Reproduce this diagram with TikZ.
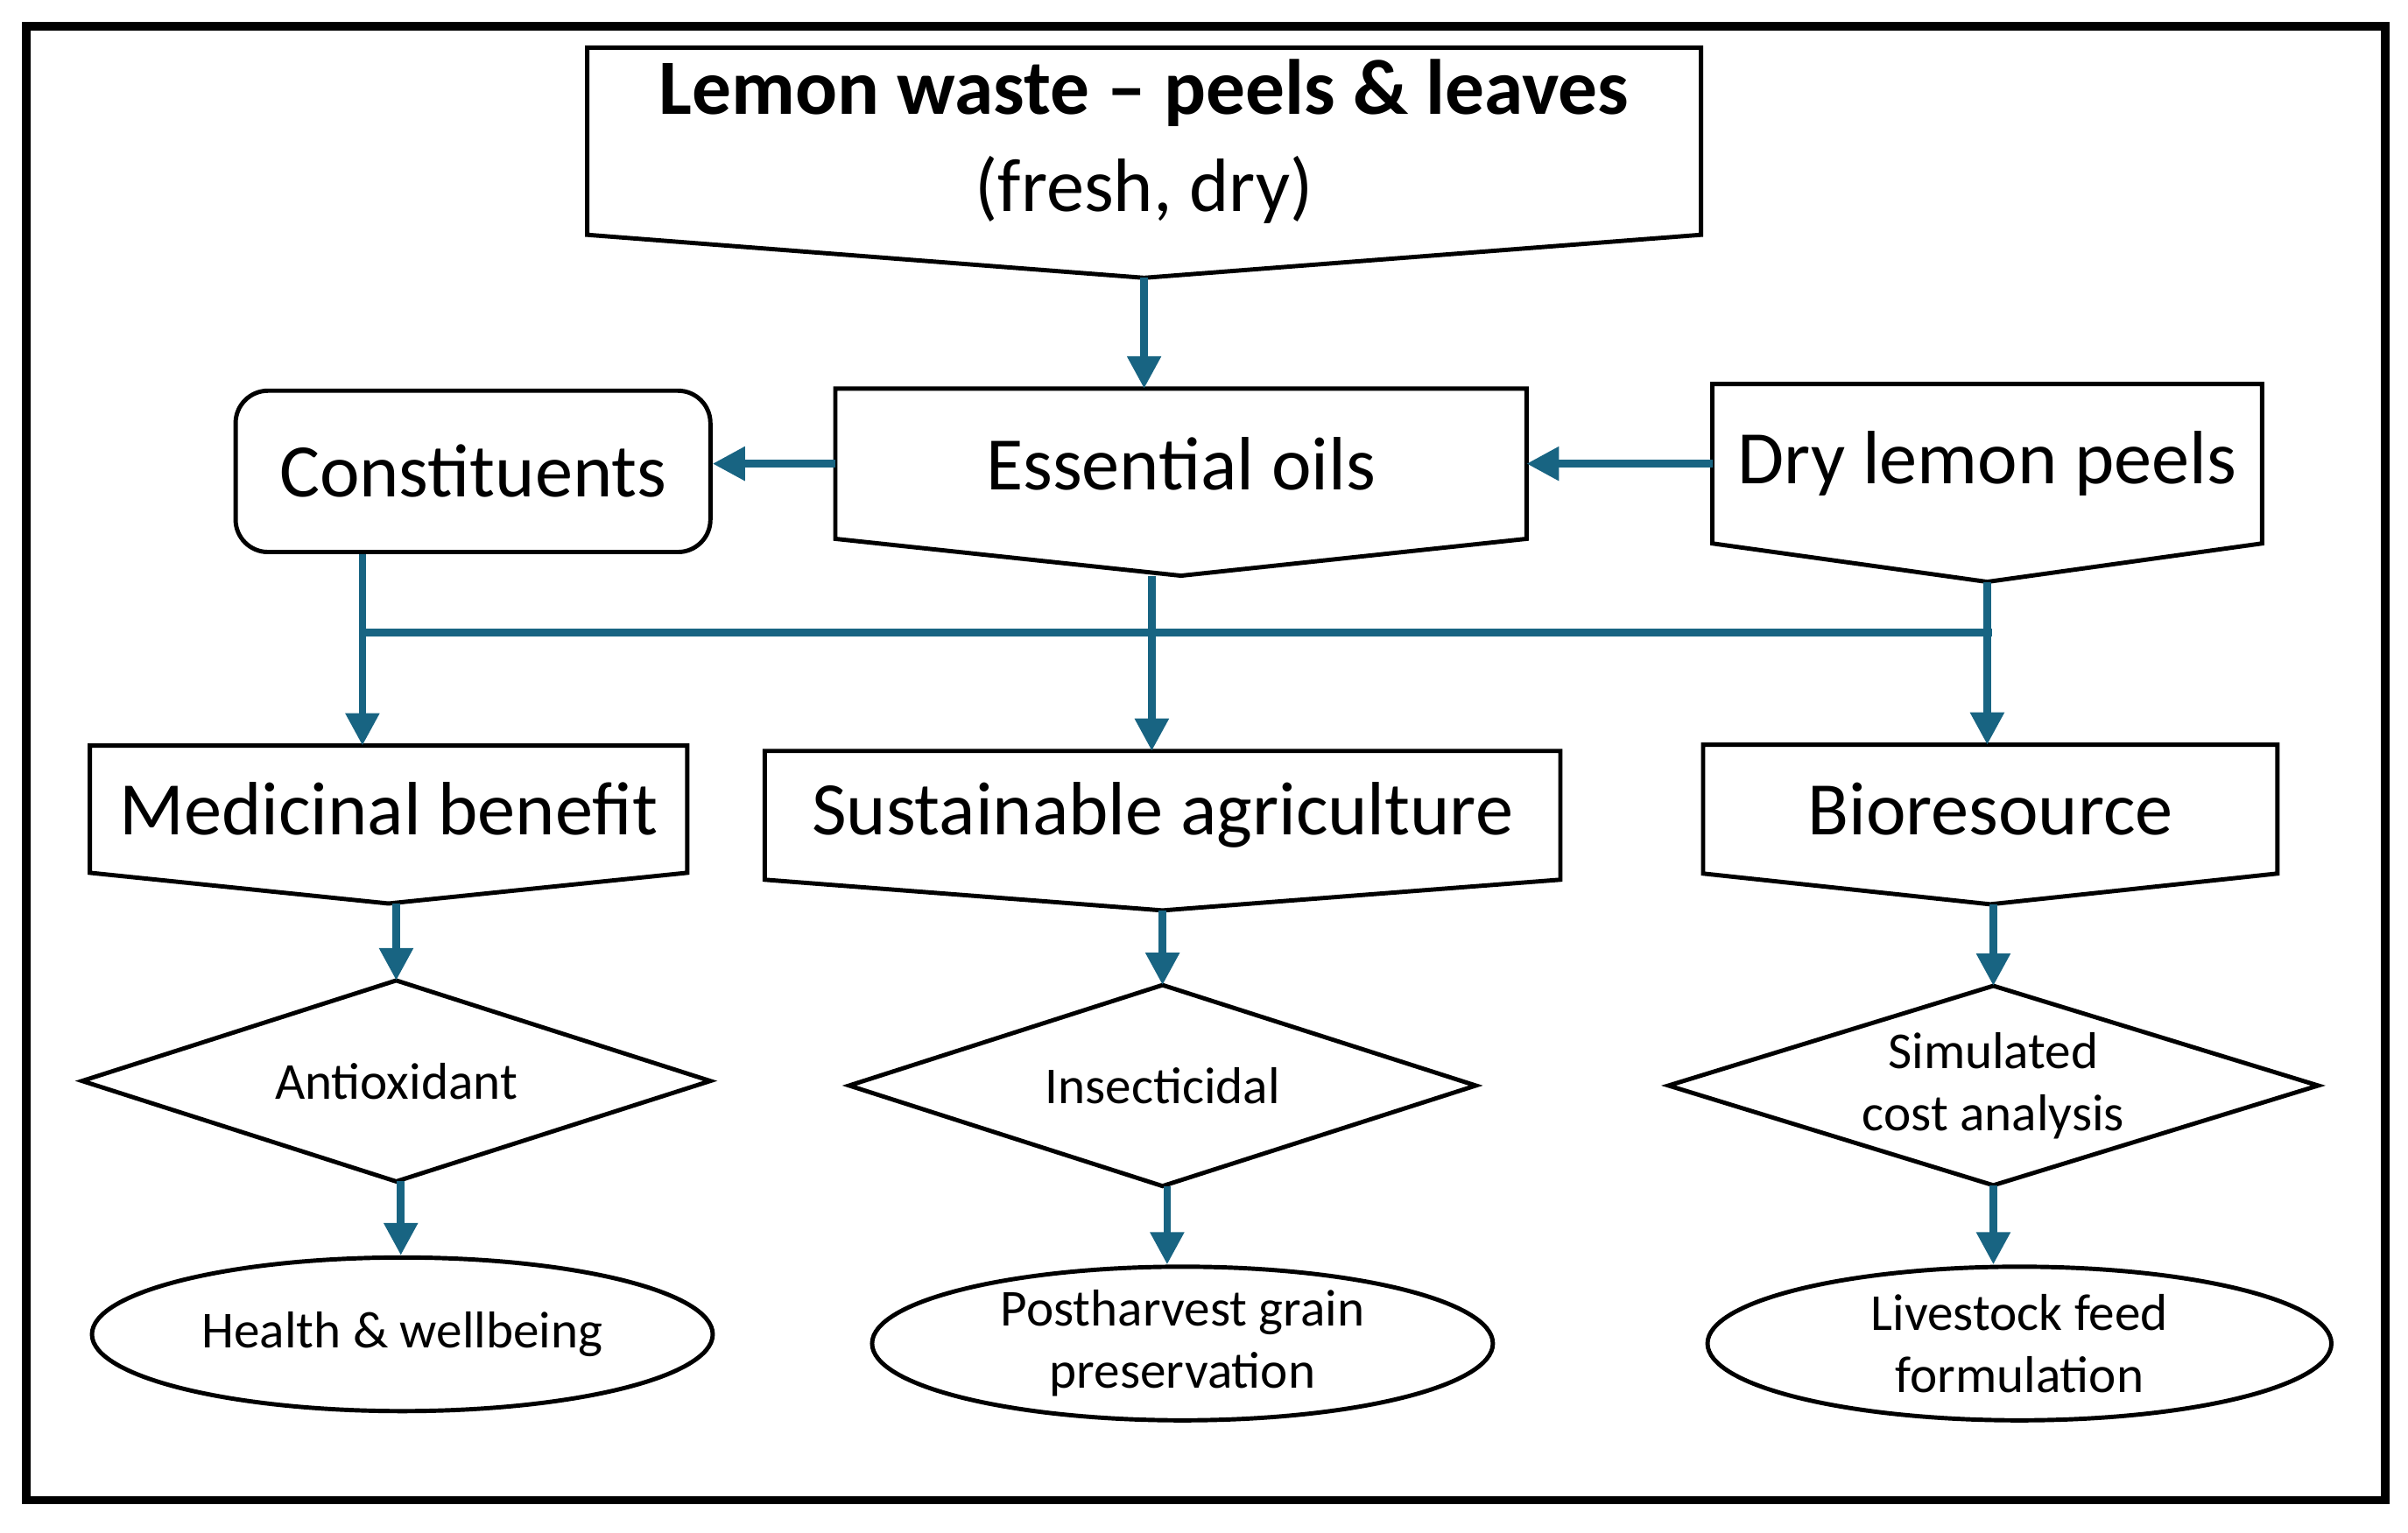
\documentclass[tikz,border=0pt]{standalone}
\usepackage{fontspec}
\setmainfont{Carlito}
\usetikzlibrary{arrows.meta}
\usetikzlibrary{calc}
\usetikzlibrary{shapes.geometric}
\definecolor{flow}{RGB}{24,100,130}
\tikzstyle{pen} = [draw=none,inner sep=0pt,font=\fontsize{14}{16}\selectfont]
\tikzstyle{rbox} = [draw,rounded corners=6pt,inner sep=0pt,font=\fontsize{14}{16}\selectfont]
\tikzstyle{dia} = [draw=none,inner sep=0pt,align=center,font=\fontsize{9.6}{11.5}\selectfont]
\tikzstyle{ell} = [draw,ellipse,inner sep=0pt,align=center,font=\fontsize{9.6}{11.5}\selectfont]
\tikzstyle{arr} = [flow,line width=1.4pt,-{Triangle[length=6pt,width=6pt]}]
% outline of a box with a pointed bottom
\newcommand{\pennant}[2]{%
  \coordinate (#1-tip) at ($(#1.south)+(0,-#2)$);
  \draw (#1.south west) -- (#1.north west) -- (#1.north east) -- (#1.south east) -- (#1-tip) -- cycle;}
% outline of a diamond around a node
\newcommand{\rhomb}[1]{%
  \draw (#1.west) -- (#1.north) -- (#1.east) -- (#1.south) -- cycle;}

\begin{document}
\begin{tikzpicture}[x=0.01cm,y=-0.01cm,line width=0.8pt]
    \useasboundingbox (0,0) rectangle (1568,998);
    \draw[line width=1.6pt] (17,17) rectangle (1553,977);

% boxes
    \node[pen,align=center,minimum width=7.22cm,minimum height=1.19cm] at (745,92) (waste)
        {{\fontsize{14.5}{17}\selectfont\bfseries Lemon waste -- peels \& leaves}\\[2pt]{\fontsize{14}{16}\selectfont (fresh, dry)}};
    \node[rbox,minimum width=3.09cm,minimum height=1.05cm] at (308,307) (cst) {Constituents};
    \node[pen,minimum width=4.47cm,minimum height=0.95cm] at (769,302) (oil) {Essential oils};
    \node[pen,minimum width=3.55cm,minimum height=1.01cm] at (1294,302) (dry) {Dry lemon peels};
    \node[pen,minimum width=3.86cm,minimum height=0.80cm] at (253,527) (med) {Medicinal benefit};
    \node[pen,minimum width=5.15cm,minimum height=0.81cm] at (757,531) (agr) {Sustainable agriculture};
    \node[pen,minimum width=3.71cm,minimum height=0.81cm] at (1296,527) (bio) {Bioresource};
    \pennant{waste}{0.28cm}
    \pennant{oil}{0.24cm}
    \pennant{dry}{0.25cm}
    \pennant{med}{0.20cm}
    \pennant{agr}{0.20cm}
    \pennant{bio}{0.20cm}

    \node[dia,minimum width=4.06cm,minimum height=1.28cm] at (258,704) (anti) {Antioxidant};
    \node[dia,minimum width=4.05cm,minimum height=1.28cm] at (757,707) (ins) {Insecticidal};
    \node[dia,minimum width=4.20cm,minimum height=1.27cm] at (1298,707) (cost) {Simulated\\cost analysis};
    \rhomb{anti}
    \rhomb{ins}
    \rhomb{cost}

    \node[ell,minimum width=4.04cm,minimum height=1.00cm] at (262,869) (hlth) {Health \& wellbeing};
    \node[ell,minimum width=4.04cm,minimum height=1.00cm] at (770,875) (post) {Postharvest grain\\preservation};
    \node[ell,minimum width=4.06cm,minimum height=1.00cm] at (1315,875) (feed) {Livestock feed\\formulation};

% connectors
    \coordinate (b1) at (236,412);
    \coordinate (b3) at (1297,412);
    \draw[arr] (waste-tip) -- (oil.north -| waste-tip);
    \draw[arr] (oil.west) -- (oil.west -| cst.east);
    \draw[arr] (dry.west) -- (oil.east);
    \draw[flow,line width=1.4pt] (b1) -- (b3);
    \draw[arr] (cst.south -| b1) -- (med.north -| b1);
    \draw[arr] (oil-tip -| 750,0) -- (agr.north -| 750,0);
    \draw[arr] (dry-tip) -- (bio.north -| dry-tip);
    \draw[arr] (med-tip -| anti.north) -- (anti.north);
    \draw[arr] (agr-tip -| ins.north) -- (ins.north);
    \draw[arr] (bio-tip -| cost.north) -- (cost.north);
    \draw[arr] (anti.south -| 261,0) -- (hlth.north -| 261,0);
    \draw[arr] (ins.south -| 760,0) -- (post.north -| 760,0);
    \draw[arr] (cost.south) -- (feed.north -| cost.south);

\end{tikzpicture}
\end{document}
